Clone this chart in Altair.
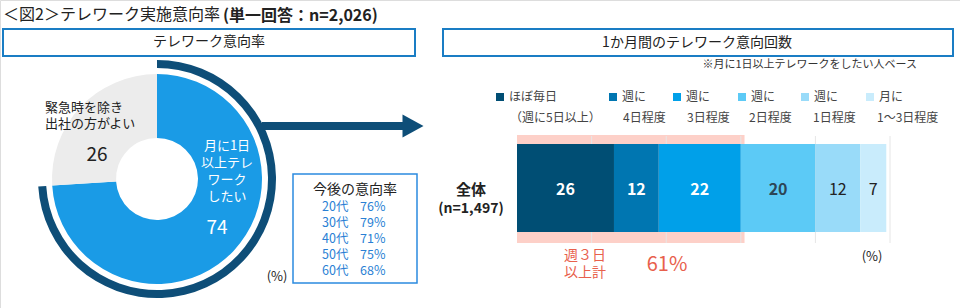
import altair as alt
import pandas as pd

FONT = "Noto Sans CJK JP"
W, H = 960, 308

# ---------------- data ----------------
donut_labels = ["月に1日以上テレワークしたい", "緊急時を除き出社の方がよい"]
donut_values = [74, 26]
donut_colors = ["#1a9be6", "#ececec"]

age_groups = ["20代", "30代", "40代", "50代", "60代"]
age_rates = [76, 79, 71, 75, 68]

freq_cats = ["ほぼ毎日", "週に4日程度", "週に3日程度", "週に2日程度", "週に1日程度", "月に1〜3日程度"]
freq_leg1 = ["ほぼ毎日", "週に", "週に", "週に", "週に", "月に"]
freq_leg2 = ["（週に5日以上）", "4日程度", "3日程度", "2日程度", "1日程度", "1〜3日程度"]
freq_values = [26, 12, 22, 20, 12, 7]
freq_colors = ["#004e74", "#0076b1", "#00a0e9", "#5ccaf6", "#99dbf9", "#c9ecfc"]
freq_text_colors = ["#ffffff", "#ffffff", "#ffffff", "#2d4656", "#222222", "#222222"]
week3_total = 61

one = pd.DataFrame({"a": [0]})


def txt(s, x, y, size=12, color="#222222", weight="normal", align="center", baseline="middle", lh=None):
    kw = dict(text=s, fontSize=size, color=color, fontWeight=weight, align=align,
              baseline=baseline, font=FONT)
    if lh:
        kw["lineHeight"] = lh
    return alt.Chart(one).mark_text(**kw).encode(x=alt.value(x), y=alt.value(y))


def box(x1, x2, y1, y2, stroke, sw=2, fill="#ffffff"):
    return alt.Chart(one).mark_rect(fill=fill, stroke=stroke, strokeWidth=sw).encode(
        x=alt.value(x1), x2=alt.value(x2), y=alt.value(y1), y2=alt.value(y2))


layers = []

# ---------------- title and header boxes ----------------
layers.append(txt("＜図2＞テレワーク実施意向率", 3, 15, size=16, color="#222222", align="left"))
layers.append(txt("(単一回答：n=2,026)", 223, 16, size=16, color="#222222", weight="bold", align="left"))
layers.append(box(3, 415, 29, 56, "#1a7dc4"))
layers.append(txt("テレワーク意向率", 209, 42, size=14))
layers.append(box(443, 953, 29, 56, "#1a7dc4"))
layers.append(txt("1か月間のテレワーク意向回数", 697, 43, size=14))
layers.append(txt("※月に1日以上テレワークをしたい人ベース", 917, 65, size=11, color="#333333", align="right"))

# ---------------- donut ----------------
cx, cy = 157, 179
donut_df = pd.DataFrame({"label": donut_labels, "value": donut_values,
                         "color": donut_colors, "ord": [0, 1],
                         "ring": [1, 0]})
theta = alt.Theta("value:Q", stack=True)
layers.append(
    alt.Chart(donut_df).mark_arc(radius=105, radius2=41).encode(
        theta=theta, color=alt.Color("color:N", scale=None),
        order=alt.Order("ord:Q"), x=alt.value(cx), y=alt.value(cy))
)
layers.append(
    alt.Chart(donut_df).mark_arc(radius=119, radius2=111, color="#0e4e78").encode(
        theta=theta, opacity=alt.Opacity("ring:Q", scale=None),
        order=alt.Order("ord:Q"), x=alt.value(cx), y=alt.value(cy))
)
# arrow
layers.append(alt.Chart(one).mark_rule(color="#0e4e78", strokeWidth=8).encode(
    x=alt.value(262), x2=alt.value(404), y=alt.value(126)))
layers.append(alt.Chart(one).mark_point(shape="M-1,-1.1L1,0L-1,1.1Z", filled=True, opacity=1,
                                        color="#0e4e78", size=441).encode(
    x=alt.value(413), y=alt.value(126)))

layers.append(txt(["緊急時を除き", "出社の方がよい"], 45, 108, size=13, align="left", baseline="middle", lh=16))
layers.append(txt(str(donut_values[1]), 97, 155, size=19))
layers.append(txt(["月に1日", "以上テレ", "ワーク", "したい"], 227, 146, size=13, color="#ffffff", lh=17))
layers.append(txt(str(donut_values[0]), 217, 228, size=19, color="#ffffff"))
layers.append(txt("(%)", 277, 277, size=13))

# age box
layers.append(box(293, 417, 174, 283, "#2b8be0", sw=1.5))
layers.append(txt("今後の意向率", 355, 190, size=14))
age_df = pd.DataFrame({"age": age_groups, "rate": [f"{r}%" for r in age_rates], "i": range(len(age_groups))})
age_y = alt.Y("i:Q", scale=alt.Scale(domain=[0, len(age_groups) - 1], range=[207, 271]), axis=None)
layers.append(alt.Chart(age_df).mark_text(font=FONT, fontSize=12.5, color="#2a7fd4", align="left").encode(
    x=alt.value(322), y=age_y, text="age:N"))
layers.append(alt.Chart(age_df).mark_text(font=FONT, fontSize=12.5, color="#2a7fd4", align="left").encode(
    x=alt.value(360), y=age_y, text="rate:N"))

# ---------------- stacked bar ----------------
starts, acc = [], 0
for v in freq_values:
    starts.append(acc)
    acc += v
bar_df = pd.DataFrame({"cat": freq_cats, "value": freq_values, "start": starts,
                       "end": [s + v for s, v in zip(starts, freq_values)],
                       "color": freq_colors, "tcolor": freq_text_colors,
                       "bold": [1, 1, 1, 1, 0, 0]})
bar_df["mid"] = (bar_df["start"] + bar_df["end"]) / 2
xs = alt.Scale(domain=[0, 100], range=[517, 890])

pink_df = pd.DataFrame({"s": [0], "e": [week3_total]})
layers.append(alt.Chart(pink_df).mark_rect(color="#fdd0c8").encode(
    x=alt.X("s:Q", scale=xs, axis=None), x2="e:Q", y=alt.value(135), y2=alt.value(243)))
grid_df = pd.DataFrame({"g": [20, 40, 60, 80, 100]})
layers.append(alt.Chart(grid_df).mark_rule(color="#e6e6e6", strokeWidth=1).encode(
    x=alt.X("g:Q", scale=xs, axis=None), y=alt.value(136), y2=alt.value(243)))
layers.append(alt.Chart(bar_df).mark_rect().encode(
    x=alt.X("start:Q", scale=xs, axis=None), x2="end:Q",
    y=alt.value(144), y2=alt.value(232),
    color=alt.Color("color:N", scale=None)))
layers.append(alt.Chart(bar_df).transform_filter("datum.bold == 1").mark_text(
    font=FONT, fontSize=16, fontWeight="bold").encode(
    x=alt.X("mid:Q", scale=xs, axis=None), y=alt.value(190),
    text="value:Q", color=alt.Color("tcolor:N", scale=None)))
layers.append(alt.Chart(bar_df).transform_filter("datum.bold == 0").mark_text(
    font=FONT, fontSize=16).encode(
    x=alt.X("mid:Q", scale=xs, axis=None), y=alt.value(190),
    text="value:Q", color=alt.Color("tcolor:N", scale=None)))

layers.append(txt("全体", 471, 190, size=15, weight="bold"))
layers.append(txt("(n=1,497)", 471, 209, size=14, weight="bold"))
layers.append(txt(["週３日", "以上計"], 585, 256, size=14, color="#e8604c", lh=17))
layers.append(txt(f"{week3_total}%", 667, 265, size=20, color="#e8604c"))
layers.append(txt("(%)", 872, 257, size=13))

# legend
leg_x = [500, 613, 677, 742, 805, 870]
leg_df = pd.DataFrame({"l1": freq_leg1, "l2": freq_leg2, "color": freq_colors,
                       "px": leg_x})
layers.append(alt.Chart(leg_df).mark_square(size=64, opacity=1).encode(
    x=alt.X("px:Q", scale=None), y=alt.value(97), color=alt.Color("color:N", scale=None)))
layers.append(alt.Chart(leg_df).mark_text(font=FONT, fontSize=12, color="#444444", align="left").encode(
    x=alt.X("px:Q", scale=None), y=alt.value(97), text="l1:N", xOffset=alt.value(9)))
leg_df2 = leg_df.copy()
leg_df2["px2"] = [510, 623, 687, 749, 813, 877]
layers.append(alt.Chart(leg_df2).mark_text(font=FONT, fontSize=12, color="#444444", align="left").encode(
    x=alt.X("px2:Q", scale=None), y=alt.value(118), text="l2:N"))

chart = alt.layer(*layers).resolve_scale(x="independent", y="independent", theta="shared").properties(
    width=W, height=H, padding=0, autosize=alt.AutoSizeParams(type="none")
).configure_view(stroke=None).configure(background="#ffffff")

chart.save("out.html", embed_options={"renderer": "svg", "actions": False})
